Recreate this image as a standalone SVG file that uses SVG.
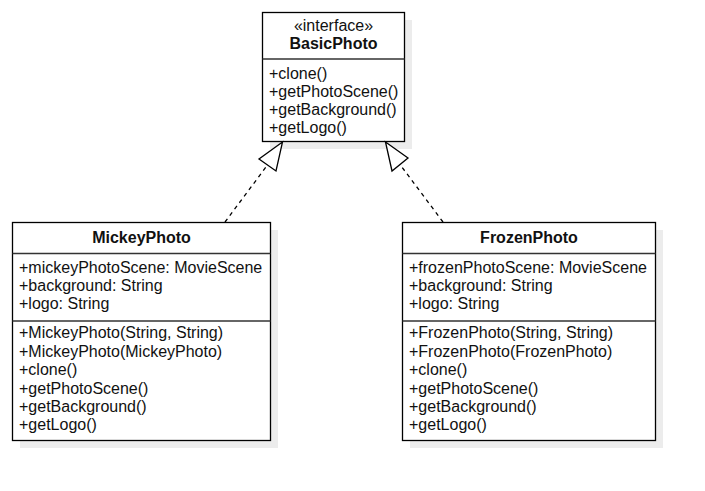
<svg xmlns="http://www.w3.org/2000/svg" width="705" height="491" viewBox="0 0 705 491">
<style>
.box{fill:#fff;stroke:#000;stroke-width:1.3}
.shadow{fill:#ececec}
.sep{stroke:#333;stroke-width:1.3}
text{font-family:"Liberation Sans",Arial,sans-serif;font-size:16px;fill:#111}
.b{font-weight:bold}
.c{text-anchor:middle}
.dash{fill:none;stroke:#000;stroke-width:1.3;stroke-dasharray:4 4}
.tri{fill:#fff;stroke:#000;stroke-width:1.3}
</style>
<rect width="705" height="491" fill="#fff"/>
<g id="BasicPhoto">
<rect class="shadow" x="270" y="20" width="142" height="129"/>
<rect class="box" x="262.5" y="12.5" width="142" height="129"/>
<line class="sep" x1="262.5" y1="59" x2="404.5" y2="59"/>
<text class="c" x="333.5" y="31">«interface»</text>
<text class="c b" x="333.5" y="49">BasicPhoto</text>
<text x="269" y="79">+clone()</text>
<text x="269" y="97">+getPhotoScene()</text>
<text x="269" y="115">+getBackground()</text>
<text x="269" y="133">+getLogo()</text>
</g>
<g id="MickeyPhoto">
<rect class="shadow" x="20" y="230" width="258" height="218"/>
<rect class="box" x="12.5" y="222.5" width="258" height="218"/>
<line class="sep" x1="12.5" y1="253.5" x2="270.5" y2="253.5"/>
<line class="sep" x1="12.5" y1="321" x2="270.5" y2="321"/>
<text class="c b" x="141.5" y="243">MickeyPhoto</text>
<text x="19" y="273">+mickeyPhotoScene: MovieScene</text>
<text x="19" y="291">+background: String</text>
<text x="19" y="309">+logo: String</text>
<text x="19" y="338">+MickeyPhoto(String, String)</text>
<text x="19" y="356.5">+MickeyPhoto(MickeyPhoto)</text>
<text x="19" y="375">+clone()</text>
<text x="19" y="393.5">+getPhotoScene()</text>
<text x="19" y="412">+getBackground()</text>
<text x="19" y="430">+getLogo()</text>
</g>
<g id="FrozenPhoto">
<rect class="shadow" x="410" y="230" width="253" height="218"/>
<rect class="box" x="402.5" y="222.5" width="253" height="218"/>
<line class="sep" x1="402.5" y1="253.5" x2="655.5" y2="253.5"/>
<line class="sep" x1="402.5" y1="321" x2="655.5" y2="321"/>
<text class="c b" x="529" y="243">FrozenPhoto</text>
<text x="409" y="273">+frozenPhotoScene: MovieScene</text>
<text x="409" y="291">+background: String</text>
<text x="409" y="309">+logo: String</text>
<text x="409" y="338">+FrozenPhoto(String, String)</text>
<text x="409" y="356.5">+FrozenPhoto(FrozenPhoto)</text>
<text x="409" y="375">+clone()</text>
<text x="409" y="393.5">+getPhotoScene()</text>
<text x="409" y="412">+getBackground()</text>
<text x="409" y="430">+getLogo()</text>
</g>
<g id="connectors">
<line class="dash" x1="225" y1="222" x2="267.5" y2="165"/>
<polygon class="tri" points="282.5,142 259,159 276,171"/>
<line class="dash" x1="443" y1="222" x2="400" y2="164.5"/>
<polygon class="tri" points="385.5,142 392,171 408,158"/>
</g>
</svg>
